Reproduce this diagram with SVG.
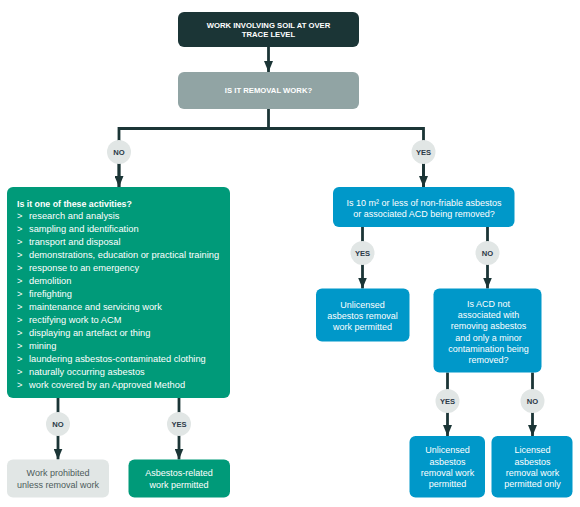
<svg xmlns="http://www.w3.org/2000/svg" width="580" height="507" viewBox="0 0 580 507">
<style>
.t{font-family:"Liberation Sans",Arial,sans-serif;font-size:9px;fill:#fff}
.li{font-size:9.3px}
.c{text-anchor:middle}
.h{font-family:"Liberation Sans",Arial,sans-serif;font-weight:bold;font-size:7.7px;fill:#fff;text-anchor:middle}
.b{font-family:"Liberation Sans",Arial,sans-serif;font-weight:bold;font-size:7.6px;fill:#2c3a48;text-anchor:middle}
.ln{fill:none;stroke:#1b3536;stroke-width:2.8}
.badge{fill:#e1e6e5}
.green{fill:#009a79}
.blue{fill:#0098c9}
</style>
<defs>
<marker id="ah" markerUnits="userSpaceOnUse" markerWidth="11" markerHeight="9" viewBox="0 0 11 9" refX="11" refY="4.5" orient="auto">
<path d="M0,0 L11,4.5 L0,9 z" fill="#1b3536"/>
</marker>
</defs>
<g id="connectors">
<path class="ln" d="M268.5,47 V72" marker-end="url(#ah)"/>
<path class="ln" d="M268.5,109 V128.5"/>
<path class="ln" d="M119,187 V128.5 H423.5 V187"/>
<path class="ln" d="M119,140 V187" marker-end="url(#ah)"/>
<path class="ln" d="M423.5,140 V187" marker-end="url(#ah)"/>
<path class="ln" d="M58,398 V459.5" marker-end="url(#ah)"/>
<path class="ln" d="M179,398 V459.5" marker-end="url(#ah)"/>
<path class="ln" d="M362.5,227 V288.5" marker-end="url(#ah)"/>
<path class="ln" d="M487.5,227 V288.5" marker-end="url(#ah)"/>
<path class="ln" d="M447.5,372.5 V436" marker-end="url(#ah)"/>
<path class="ln" d="M532.5,372.5 V436" marker-end="url(#ah)"/>
</g>
<g id="badges">
<g id="badge-no-1"><circle class="badge" cx="119" cy="152" r="12"/><text class="b" x="119" y="154.8">NO</text></g>
<g id="badge-yes-1"><circle class="badge" cx="423.5" cy="152" r="12"/><text class="b" x="423.5" y="154.8">YES</text></g>
<g id="badge-no-2"><circle class="badge" cx="58" cy="424" r="12"/><text class="b" x="58" y="426.8">NO</text></g>
<g id="badge-yes-2"><circle class="badge" cx="179" cy="424" r="12"/><text class="b" x="179" y="426.8">YES</text></g>
<g id="badge-yes-3"><circle class="badge" cx="362.5" cy="253" r="12"/><text class="b" x="362.5" y="255.8">YES</text></g>
<g id="badge-no-3"><circle class="badge" cx="487.5" cy="253" r="12"/><text class="b" x="487.5" y="255.8">NO</text></g>
<g id="badge-yes-4"><circle class="badge" cx="447.5" cy="401" r="12"/><text class="b" x="447.5" y="403.8">YES</text></g>
<g id="badge-no-4"><circle class="badge" cx="532.5" cy="401" r="12"/><text class="b" x="532.5" y="403.8">NO</text></g>
</g>
<g id="start">
<rect x="178" y="12" width="181" height="35" rx="6" fill="#1b3536"/>
<text class="h" x="268.5" y="27.7">WORK INVOLVING SOIL AT OVER</text>
<text class="h" x="268.5" y="37.1">TRACE LEVEL</text>
</g>
<g id="removal">
<rect x="178" y="72" width="181" height="37" rx="6" fill="#91a4a4"/>
<text class="h" x="268.5" y="93.4">IS IT REMOVAL WORK?</text>
</g>
<g id="activities">
<rect class="green" x="7" y="187" width="223" height="211" rx="6"/>
<text class="t" x="17" y="206.5" style="font-weight:bold;font-size:8.8px">Is it one of these activities?</text>
<g class="t li">
<text x="17" y="219">&gt;</text><text x="29" y="219">research and analysis</text>
<text x="17" y="232">&gt;</text><text x="29" y="232">sampling and identification</text>
<text x="17" y="245">&gt;</text><text x="29" y="245">transport and disposal</text>
<text x="17" y="258">&gt;</text><text x="29" y="258">demonstrations, education or practical training</text>
<text x="17" y="271">&gt;</text><text x="29" y="271">response to an emergency</text>
<text x="17" y="284">&gt;</text><text x="29" y="284">demolition</text>
<text x="17" y="297">&gt;</text><text x="29" y="297">firefighting</text>
<text x="17" y="310">&gt;</text><text x="29" y="310">maintenance and servicing work</text>
<text x="17" y="323">&gt;</text><text x="29" y="323">rectifying work to ACM</text>
<text x="17" y="336">&gt;</text><text x="29" y="336">displaying an artefact or thing</text>
<text x="17" y="349">&gt;</text><text x="29" y="349">mining</text>
<text x="17" y="362">&gt;</text><text x="29" y="362">laundering asbestos-contaminated clothing</text>
<text x="17" y="375">&gt;</text><text x="29" y="375">naturally occurring asbestos</text>
<text x="17" y="388">&gt;</text><text x="29" y="388">work covered by an Approved Method</text>
</g>
</g>
<g id="prohibited">
<rect x="7" y="459.5" width="102" height="38" rx="6" fill="#e1e6e5"/>
<text class="t c" x="58" y="476" style="fill:#4d5b5b">Work prohibited</text>
<text class="t c" x="58" y="488" style="fill:#4d5b5b">unless removal work</text>
</g>
<g id="asbestos-related">
<rect class="green" x="128.5" y="459.5" width="101.5" height="38" rx="6"/>
<text class="t c" x="179" y="476">Asbestos-related</text>
<text class="t c" x="179" y="488">work permitted</text>
</g>
<g id="ten-m2">
<rect class="blue" x="333" y="187" width="181.5" height="40" rx="6"/>
<text class="t c" x="424" y="206">Is 10 m² or less of non-friable asbestos</text>
<text class="t c" x="424" y="217">or associated ACD being removed?</text>
</g>
<g id="unlicensed-1">
<rect class="blue" x="316" y="288.5" width="93.5" height="53" rx="6"/>
<text class="t c" x="362.5" y="307.5">Unlicensed</text>
<text class="t c" x="362.5" y="318.8">asbestos removal</text>
<text class="t c" x="362.5" y="330.1">work permitted</text>
</g>
<g id="acd">
<rect class="blue" x="433.5" y="288.5" width="108" height="84" rx="6"/>
<text class="t c" x="488.5" y="306.6">Is ACD not</text>
<text class="t c" x="488.5" y="317.9">associated with</text>
<text class="t c" x="488.5" y="329.2">removing asbestos</text>
<text class="t c" x="488.5" y="340.5">and only a minor</text>
<text class="t c" x="488.5" y="351.8">contamination being</text>
<text class="t c" x="488.5" y="363.1">removed?</text>
</g>
<g id="unlicensed-2">
<rect class="blue" x="409.5" y="436" width="75.5" height="61.5" rx="6"/>
<text class="t c" x="447.5" y="453.3">Unlicensed</text>
<text class="t c" x="447.5" y="464.6">asbestos</text>
<text class="t c" x="447.5" y="476">removal work</text>
<text class="t c" x="447.5" y="487.4">permitted</text>
</g>
<g id="licensed">
<rect class="blue" x="491.5" y="436" width="81" height="61.5" rx="6"/>
<text class="t c" x="532.5" y="453.3">Licensed</text>
<text class="t c" x="532.5" y="464.6">asbestos</text>
<text class="t c" x="532.5" y="476">removal work</text>
<text class="t c" x="532.5" y="487.4">permitted only</text>
</g>
</svg>
